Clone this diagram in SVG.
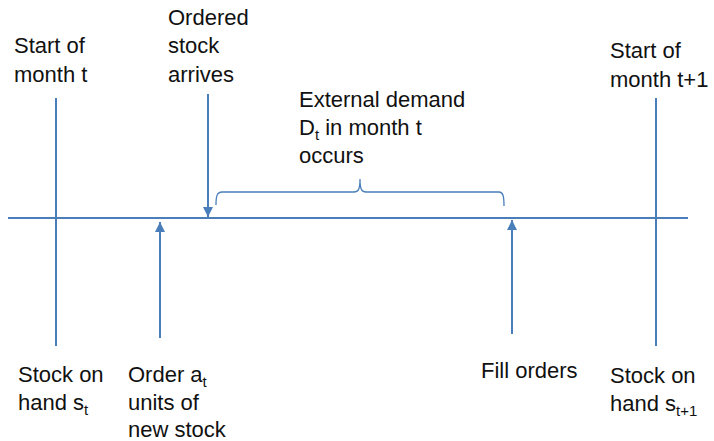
<svg xmlns="http://www.w3.org/2000/svg" width="714" height="441" viewBox="0 0 714 441">
  <style>
    .lbl { font-family: "Liberation Sans", Arial, sans-serif; font-size: 22px; fill: #111; }
    .sub { font-size: 15px; }
    .ln { stroke: #4a7ebb; stroke-width: 2; fill: none; }
    .brace { stroke: #4a7ebb; stroke-width: 1.3; fill: none; }
  </style>
  <defs>
    <marker id="head" viewBox="0 0 10 10" refX="10" refY="5" markerWidth="5" markerHeight="5" orient="auto" markerUnits="strokeWidth">
      <path d="M0,0 L10,5 L0,10 z" fill="#4a7ebb"/>
    </marker>
  </defs>

  <!-- timeline and connectors -->
  <g id="connectors">
    <line class="ln" x1="8" y1="218" x2="688" y2="218"/>
    <line class="ln" x1="56" y1="98" x2="56" y2="346"/>
    <line class="ln" x1="656" y1="98" x2="656" y2="346"/>
    <line class="ln" x1="208" y1="94" x2="208" y2="217" marker-end="url(#head)"/>
    <line class="ln" x1="160" y1="338" x2="160" y2="222" marker-end="url(#head)"/>
    <line class="ln" x1="512" y1="334" x2="512" y2="220" marker-end="url(#head)"/>
    <path class="brace" d="M216,205 C216,196 217,192 222,192 L354,192 C358,192 360,190 360,179 C360,190 362,192 366,192 L499,192 C503,192 504,196 504,206"/>
  </g>

  <g id="start-t">
    <text class="lbl" x="14" y="53">Start of</text>
    <text class="lbl" x="14" y="82">month t</text>
  </g>

  <g id="arrives">
    <text class="lbl" x="168" y="25">Ordered</text>
    <text class="lbl" x="168" y="53">stock</text>
    <text class="lbl" x="168" y="82">arrives</text>
  </g>

  <g id="demand">
    <text class="lbl" x="299" y="107">External demand</text>
    <text class="lbl" x="299" y="135">D<tspan class="sub" dy="5">t</tspan><tspan dy="-5"> in month t</tspan></text>
    <text class="lbl" x="299" y="163">occurs</text>
  </g>

  <g id="start-t1">
    <text class="lbl" x="610" y="58">Start of</text>
    <text class="lbl" x="610" y="87">month t+1</text>
  </g>

  <g id="stock-t">
    <text class="lbl" x="18" y="382">Stock on</text>
    <text class="lbl" x="18" y="410">hand s<tspan class="sub" dy="5">t</tspan></text>
  </g>

  <g id="order">
    <text class="lbl" x="128" y="382">Order a<tspan class="sub" dy="5">t</tspan></text>
    <text class="lbl" x="128" y="410">units of</text>
    <text class="lbl" x="128" y="437">new stock</text>
  </g>

  <g id="fill">
    <text class="lbl" x="481" y="378">Fill orders</text>
  </g>

  <g id="stock-t1">
    <text class="lbl" x="610" y="383">Stock on</text>
    <text class="lbl" x="610" y="411">hand s<tspan class="sub" dy="5">t+1</tspan></text>
  </g>
</svg>
